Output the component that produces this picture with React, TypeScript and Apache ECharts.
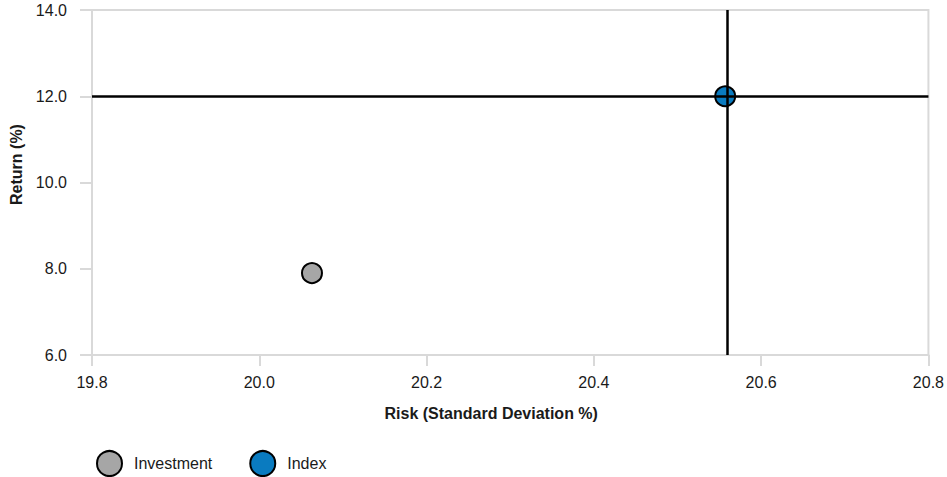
import React, { useEffect, useRef } from "react";
import * as echarts from "echarts";

const seriesNames = ["Investment", "Index"];
const riskValues = [20.063, 20.557];
const returnValues = [7.9, 12.0];
const seriesColors = ["#a6a6a6", "#0a7bc0"];
const xTicks = [19.8, 20.0, 20.2, 20.4, 20.6, 20.8];
const yTicks = [6.0, 8.0, 10.0, 12.0, 14.0];

export default function App() {
  const ref = useRef<HTMLDivElement>(null);
  useEffect(() => {
    const chart = echarts.init(ref.current!, null, { renderer: "svg" });
    const font = "Arial, 'Liberation Sans', sans-serif";
    const textColor = "#1a1a1a";
    chart.setOption({
      animation: false,
      textStyle: { fontFamily: font },
      grid: {
        left: 92,
        right: 15,
        top: 10,
        bottom: 122,
        show: true,
        borderColor: "#d9d9d9",
        borderWidth: 2,
      },
      xAxis: {
        type: "value",
        min: xTicks[0],
        max: xTicks[xTicks.length - 1],
        interval: 0.2,
        name: "Risk (Standard Deviation %)",
        nameLocation: "middle",
        nameGap: 50,
        nameTextStyle: {
          fontWeight: "bold",
          fontSize: 16,
          color: textColor,
          fontFamily: font,
          padding: [0, 38, 0, 0],
        },
        axisLine: { lineStyle: { color: "#d9d9d9", width: 2 } },
        axisTick: { show: true, length: 11, lineStyle: { color: "#d9d9d9", width: 2 } },
        axisLabel: {
          margin: 19,
          fontSize: 16,
          color: textColor,
          fontFamily: font,
          formatter: (v: number) => v.toFixed(1),
        },
        splitLine: { show: false },
      },
      yAxis: {
        type: "value",
        min: yTicks[0],
        max: yTicks[yTicks.length - 1],
        interval: 2,
        name: "Return (%)",
        nameLocation: "middle",
        nameRotate: 90,
        nameGap: 64,
        nameTextStyle: {
          fontWeight: "bold",
          fontSize: 16,
          color: textColor,
          fontFamily: font,
          padding: [0, 0, 0, 36],
        },
        axisLine: { show: true, lineStyle: { color: "#d9d9d9", width: 2 } },
        axisTick: { show: true, length: 12, lineStyle: { color: "#d9d9d9", width: 2 } },
        axisLabel: {
          margin: 25,
          fontSize: 16,
          color: textColor,
          fontFamily: font,
          formatter: (v: number) => v.toFixed(1),
        },
        splitLine: { show: false },
      },
      legend: {
        left: 96,
        top: 450,
        padding: 0,
        icon: "circle",
        itemWidth: 25,
        itemHeight: 25,
        itemGap: 37,
        textStyle: { fontSize: 16, color: textColor, fontFamily: font, padding: [0, 0, 0, 7] },
        data: seriesNames,
      },
      series: seriesNames.map((name, i) => ({
        name,
        type: "scatter",
        symbol: "circle",
        symbolSize: 20,
        data: [[riskValues[i], returnValues[i]]],
        itemStyle: { color: seriesColors[i], borderColor: "#000", borderWidth: 2, opacity: 1 },
        emphasis: { disabled: true },
        ...(name === "Index"
          ? {
              markLine: {
                silent: true,
                symbol: ["none", "none"],
                z: 10,
                label: { show: false },
                lineStyle: { color: "#000", width: 2.5, type: "solid" },
                data: [{ xAxis: riskValues[i] }, { yAxis: returnValues[i] }],
              },
            }
          : {}),
      })),
    });
    return () => chart.dispose();
  }, []);
  return (
    <div
      ref={ref}
      style={{ position: "absolute", left: 0, top: 0, width: 947, height: 477 }}
    />
  );
}
